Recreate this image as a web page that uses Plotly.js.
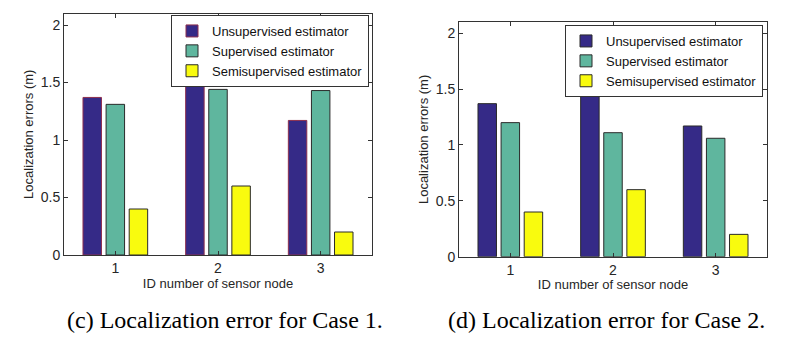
<!DOCTYPE html>
<html>
<head>
<meta charset="utf-8">
<script src="https://cdn.plot.ly/plotly-3.0.1.min.js"></script>
<style>html,body{margin:0;padding:0;background:#fff;}#chart{width:806px;height:340px;}</style>
</head>
<body>
<div id="chart"></div>
<script>
// Data
const nodes = [1, 2, 3];
const seriesNames = ["Unsupervised estimator", "Supervised estimator", "Semisupervised estimator"];
const case1Unsupervised = [1.37, 1.57, 1.17];
const case1Supervised = [1.31, 1.44, 1.43];
const case1Semisupervised = [0.40, 0.60, 0.20];
const case2Unsupervised = [1.37, 1.57, 1.17];
const case2Supervised = [1.20, 1.11, 1.06];
const case2Semisupervised = [0.40, 0.60, 0.20];
const yTicks = [0, 0.5, 1, 1.5, 2];
const yTickText = ["0", "0.5", "1", "1.5", "2"];
const captions = ["(c) Localization error for Case 1.", "(d) Localization error for Case 2."];

const colors = ["#352a87", "#5fb69e", "#f9fb0e"];
const edges1 = ["#8e2f4e", "#2a2a2a", "#2a2a2a"];
const edges2 = ["#2a2a2a", "#2a2a2a", "#2a2a2a"];

function mk(y, i, xa, ya, leg, edges) {
  return {
    type: "bar", x: nodes, y: y, name: seriesNames[i],
    xaxis: xa, yaxis: ya, legend: leg,
    marker: {color: colors[i], line: {color: edges[i], width: 1}},
    hoverinfo: "skip"
  };
}
const c1 = [case1Unsupervised, case1Supervised, case1Semisupervised];
const c2 = [case2Unsupervised, case2Supervised, case2Semisupervised];
const traces = [];
c1.forEach((y, i) => traces.push(mk(y, i, "x", "y", "legend", edges1)));
c2.forEach((y, i) => traces.push(mk(y, i, "x2", "y2", "legend2", edges2)));

const W = 806, H = 340;
const tickFont = {family: "Liberation Sans, Arial, sans-serif", size: 14, color: "#262626"};
const titleFont = {family: "Liberation Sans, Arial, sans-serif", size: 13, color: "#262626"};
function xax(domain) {
  return {
    domain: domain, range: [0.5, 3.5], tickvals: nodes, ticktext: nodes.map(String),
    ticks: "inside", ticklen: 4, tickcolor: "#333", showline: true, linecolor: "#333", linewidth: 1,
    mirror: "ticks", showgrid: false, zeroline: false, tickfont: tickFont,
    title: {text: "ID number of sensor node", font: titleFont, standoff: 3},
    fixedrange: true
  };
}
function yax(domain, anchor) {
  return {
    domain: domain, range: [0, 2.1], tickvals: yTicks, ticktext: yTickText, anchor: anchor,
    ticks: "inside", ticklen: 4, tickcolor: "#333", showline: true, linecolor: "#333", linewidth: 1,
    mirror: "ticks", showgrid: false, zeroline: false, tickfont: tickFont,
    title: {text: "Localization errors (m)", font: titleFont, standoff: 4},
    fixedrange: true
  };
}
const legFont = {family: "Liberation Sans, Arial, sans-serif", size: 13, color: "#111"};
const capFont = {family: "Liberation Serif, Times New Roman, serif", size: 24, color: "#000"};
const layout = {
  width: W, height: H,
  margin: {l: 0, r: 0, t: 0, b: 0},
  paper_bgcolor: "#fff", plot_bgcolor: "#fff",
  barmode: "group", bargap: 0.325, bargroupgap: 0.2,
  showlegend: true,
  xaxis: Object.assign(xax([64 / W, 372 / W]), {anchor: "y"}),
  yaxis: yax([1 - 255 / H, 1 - 13.5 / H], "x"),
  xaxis2: Object.assign(xax([459 / W, 767 / W]), {anchor: "y2"}),
  yaxis2: yax([1 - 256.7 / H, 1 - 22.1 / H], "x2"),
  legend: {x: 369 / W, y: 1 - 15 / H, xanchor: "right", yanchor: "top", bgcolor: "#fff",
    bordercolor: "#333", borderwidth: 1, font: legFont, tracegroupgap: 0, itemwidth: 30},
  legend2: {x: 763 / W, y: 1 - 25 / H, xanchor: "right", yanchor: "top", bgcolor: "#fff",
    bordercolor: "#333", borderwidth: 1, font: legFont, tracegroupgap: 0, itemwidth: 30},
  annotations: [
    {text: captions[0], xref: "paper", yref: "paper", x: 225 / W, y: 1 - 320 / H, xanchor: "center", yanchor: "middle",
      showarrow: false, font: capFont},
    {text: captions[1], xref: "paper", yref: "paper", x: 606 / W, y: 1 - 320 / H, xanchor: "center", yanchor: "middle",
      showarrow: false, font: capFont}
  ]
};
Plotly.newPlot("chart", traces, layout, {displayModeBar: false, staticPlot: true});
</script>
</body>
</html>
